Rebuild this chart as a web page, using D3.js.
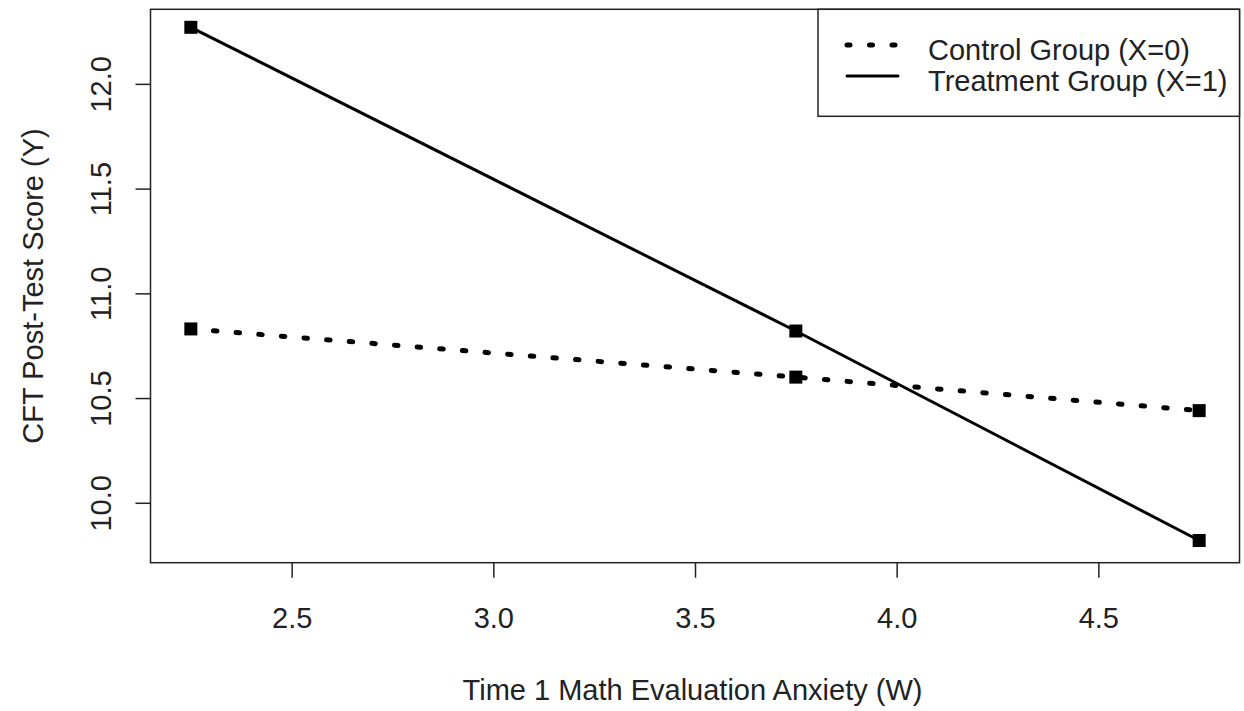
<!DOCTYPE html>
<html>
<head>
<meta charset="UTF-8" />
<title>CFT interaction plot</title>
<script src="https://d3js.org/d3.v7.min.js"></script>
<style type="text/css">
body {
    margin: 0;
    background-color: #fff;
    font-family: "Liberation Sans", Arial, sans-serif;
}
.tick text, .lbl {
    fill: #222;
}
</style>
</head>
<body>
<svg width="1244" height="711" id="svg1"></svg>
<script type="text/javascript">
// values
var anxiety = [2.25, 3.75, 4.75];
var controlScore = [10.83, 10.60, 10.44];
var treatmentScore = [12.27, 10.82, 9.82];
var xTicks = [2.5, 3.0, 3.5, 4.0, 4.5];
var yTicks = [10.0, 10.5, 11.0, 11.5, 12.0];
var seriesNames = ['Control Group (X=0)', 'Treatment Group (X=1)'];

var svg = d3.select('#svg1');
var plotLeft = 150.5, plotRight = 1239.5, plotTop = 9.3, plotBottom = 562.7;
var fontSize = 29;
var font = '"Liberation Sans", Arial, sans-serif';

var x = d3.scaleLinear().domain([2.15, 4.85]).range([plotLeft, plotRight]);
var y = d3.scaleLinear().domain([9.714, 12.356]).range([plotBottom, plotTop]);

var series = [
    {name: seriesNames[0], values: controlScore, dash: '3.5 19.2', width: 5},
    {name: seriesNames[1], values: treatmentScore, dash: null, width: 3}
];

// axes
var xAxis = svg.append('g').attr('transform', 'translate(0,' + plotBottom + ')')
    .call(d3.axisBottom(x).tickValues(xTicks).tickFormat(d3.format('.1f')).tickSize(15).tickPadding(16));
var yAxis = svg.append('g').attr('transform', 'translate(' + plotLeft + ',0)')
    .call(d3.axisLeft(y).tickValues(yTicks).tickFormat(d3.format('.1f')).tickSize(15));

xAxis.select('.domain').remove();
yAxis.select('.domain').remove();
svg.selectAll('.tick line').attr('stroke', '#222').attr('stroke-width', 1.5);
xAxis.selectAll('.tick text')
    .attr('font-size', fontSize).attr('font-family', font)
    .attr('dy', 0).attr('y', 65);
yAxis.selectAll('.tick text')
    .attr('font-size', fontSize)
    .attr('font-family', font)
    .attr('text-anchor', 'middle')
    .attr('dy', 0)
    .attr('x', 0)
    .attr('transform', 'translate(-40,0) rotate(-90)');

// plot box
svg.append('rect').attr('x', plotLeft).attr('y', plotTop)
    .attr('width', plotRight - plotLeft).attr('height', plotBottom - plotTop)
    .attr('fill', 'none').attr('stroke', '#222').attr('stroke-width', 1.5);

// lines
var line = d3.line()
    .x(function(d) { return x(d[0]); })
    .y(function(d) { return y(d[1]); });

series.forEach(function(s) {
    var pts = anxiety.map(function(a, i) { return [a, s.values[i]]; });
    svg.append('path').datum(pts)
        .attr('d', line)
        .attr('fill', 'none')
        .attr('stroke', '#000')
        .attr('stroke-width', s.width)
        .attr('stroke-linecap', 'round')
        .attr('stroke-dasharray', s.dash);
    svg.append('g').selectAll('rect').data(pts).enter().append('rect')
        .attr('x', function(d) { return x(d[0]) - 6.5; })
        .attr('y', function(d) { return y(d[1]) - 6.5; })
        .attr('width', 13).attr('height', 13)
        .attr('fill', '#000');
});

// legend
var lg = svg.append('g');
lg.append('rect').attr('x', 818).attr('y', plotTop).attr('width', plotRight - 818).attr('height', 107)
    .attr('fill', '#fff').attr('stroke', '#222').attr('stroke-width', 1.5);
series.forEach(function(s, i) {
    var ly = 45 + i * 31;
    lg.append('line').attr('x1', 847).attr('x2', 898).attr('y1', ly).attr('y2', ly)
        .attr('stroke', '#000').attr('stroke-width', s.width)
        .attr('stroke-linecap', 'round')
        .attr('stroke-dasharray', s.dash ? '3 19.5' : null);
    lg.append('text').attr('class', 'lbl').attr('x', 928).attr('y', ly + 15)
        .attr('font-size', fontSize).attr('font-family', font).text(s.name);
});

// axis titles
svg.append('text').attr('class', 'lbl')
    .attr('x', 692.5).attr('y', 700)
    .attr('text-anchor', 'middle').attr('font-size', fontSize).attr('font-family', font)
    .text('Time 1 Math Evaluation Anxiety (W)');
svg.append('text').attr('class', 'lbl')
    .attr('transform', 'translate(43,' + ((plotTop + plotBottom) / 2) + ') rotate(-90)')
    .attr('text-anchor', 'middle').attr('font-size', fontSize).attr('font-family', font)
    .text('CFT Post-Test Score (Y)');
</script>
</body>
</html>
